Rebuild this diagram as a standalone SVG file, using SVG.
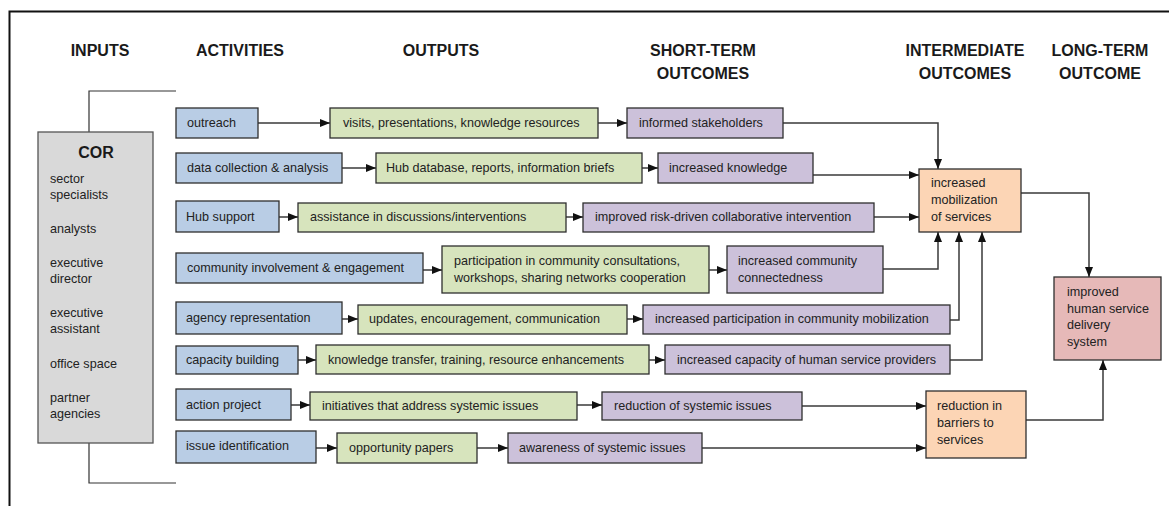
<svg xmlns="http://www.w3.org/2000/svg" width="1169" height="506" viewBox="0 0 1169 506">
<style>
.hdr{font-family:"Liberation Sans",Arial,sans-serif;font-weight:bold;font-size:16px;fill:#1a1a1a;text-anchor:middle}
.t{font-family:"Liberation Sans",Arial,sans-serif;font-size:12.6px;fill:#222}
.box{stroke:#2e2e2e;stroke-width:1.3}
.act{fill:#b9cde5}
.out{fill:#d7e4bd}
.st{fill:#ccc1da}
.im{fill:#fcd5b5}
.lt{fill:#e6b9b8}
.cor{fill:#d9d9d9;stroke:#555;stroke-width:1.3}
.c{fill:none;stroke:#3a3a3a;stroke-width:1.5}
.br{fill:none;stroke:#333;stroke-width:1.2}
</style>
<defs>
<marker id="ah" markerUnits="userSpaceOnUse" markerWidth="10" markerHeight="10" viewBox="0 0 10 10" refX="10" refY="5" orient="auto">
<path d="M0,1 L10,5 L0,9 Z" fill="#111"/>
</marker>
</defs>
<rect width="1169" height="506" fill="#fff"/>
<path d="M9.5,506 V11.5 H1169" fill="none" stroke="#111" stroke-width="2"/>

<g id="headers">
<text class="hdr" x="100" y="56">INPUTS</text>
<text class="hdr" x="240" y="56">ACTIVITIES</text>
<text class="hdr" x="441" y="56">OUTPUTS</text>
<text class="hdr" x="703" y="56">SHORT-TERM</text>
<text class="hdr" x="703" y="79">OUTCOMES</text>
<text class="hdr" x="965" y="56">INTERMEDIATE</text>
<text class="hdr" x="965" y="79">OUTCOMES</text>
<text class="hdr" x="1100" y="56">LONG-TERM</text>
<text class="hdr" x="1100" y="79">OUTCOME</text>
</g>

<g id="connectors">
<path class="br" d="M176,91 H89 V132"/>
<path class="br" d="M89,443 V483 H176"/>
<path class="c" d="M258,123 H330" marker-end="url(#ah)"/>
<path class="c" d="M598,123 H627" marker-end="url(#ah)"/>
<path class="c" d="M783,123 H938 V169" marker-end="url(#ah)"/>
<path class="c" d="M342,168 H376" marker-end="url(#ah)"/>
<path class="c" d="M642,168 H658" marker-end="url(#ah)"/>
<path class="c" d="M813,175 H919" marker-end="url(#ah)"/>
<path class="c" d="M279,217 H298" marker-end="url(#ah)"/>
<path class="c" d="M566,217 H583" marker-end="url(#ah)"/>
<path class="c" d="M874,217 H919" marker-end="url(#ah)"/>
<path class="c" d="M423,270 H442" marker-end="url(#ah)"/>
<path class="c" d="M709,270 H727" marker-end="url(#ah)"/>
<path class="c" d="M883,269 H938 V232" marker-end="url(#ah)"/>
<path class="c" d="M342,319 H358" marker-end="url(#ah)"/>
<path class="c" d="M627,319 H643" marker-end="url(#ah)"/>
<path class="c" d="M950,320 H959 V232" marker-end="url(#ah)"/>
<path class="c" d="M298,360 H316" marker-end="url(#ah)"/>
<path class="c" d="M649,360 H665" marker-end="url(#ah)"/>
<path class="c" d="M950,360 H982 V232" marker-end="url(#ah)"/>
<path class="c" d="M291,405 H310" marker-end="url(#ah)"/>
<path class="c" d="M577,405 H602" marker-end="url(#ah)"/>
<path class="c" d="M802,406 H926" marker-end="url(#ah)"/>
<path class="c" d="M316,448 H337" marker-end="url(#ah)"/>
<path class="c" d="M477,448 H508" marker-end="url(#ah)"/>
<path class="c" d="M702,448 H926" marker-end="url(#ah)"/>
<path class="c" d="M1021,193 H1089 V277" marker-end="url(#ah)"/>
<path class="c" d="M1026,420 H1103 V360" marker-end="url(#ah)"/>
</g>

<g id="cor">
<rect class="cor" x="38" y="132" width="115" height="311"/>
<text class="hdr" x="96" y="158">COR</text>
<text class="t" x="50" y="183">sector</text>
<text class="t" x="50" y="199">specialists</text>
<text class="t" x="50" y="233">analysts</text>
<text class="t" x="50" y="267">executive</text>
<text class="t" x="50" y="283">director</text>
<text class="t" x="50" y="317">executive</text>
<text class="t" x="50" y="333">assistant</text>
<text class="t" x="50" y="368">office space</text>
<text class="t" x="50" y="402">partner</text>
<text class="t" x="50" y="418">agencies</text>
</g>

<g id="act-outreach"><rect class="box act" x="176" y="108" width="82" height="30"/><text class="t" x="187" y="127">outreach</text></g>
<g id="act-data"><rect class="box act" x="176" y="153" width="166" height="30"/><text class="t" x="187" y="172">data collection &amp; analysis</text></g>
<g id="act-hub"><rect class="box act" x="176" y="201" width="103" height="31"/><text class="t" x="186" y="221">Hub support</text></g>
<g id="act-community"><rect class="box act" x="176" y="253" width="247" height="30"/><text class="t" x="187" y="272">community involvement &amp; engagement</text></g>
<g id="act-agency"><rect class="box act" x="176" y="302" width="166" height="32"/><text class="t" x="186" y="322">agency representation</text></g>
<g id="act-capacity"><rect class="box act" x="176" y="346" width="122" height="28"/><text class="t" x="186" y="364">capacity building</text></g>
<g id="act-action"><rect class="box act" x="176" y="389" width="115" height="31"/><text class="t" x="186" y="409">action project</text></g>
<g id="act-issue"><rect class="box act" x="176" y="431" width="140" height="32"/><text class="t" x="186" y="450">issue identification</text></g>

<g id="out-visits"><rect class="box out" x="330" y="108" width="268" height="30"/><text class="t" x="343" y="127">visits, presentations, knowledge resources</text></g>
<g id="out-hubdb"><rect class="box out" x="376" y="153" width="266" height="30"/><text class="t" x="386" y="172">Hub database, reports, information briefs</text></g>
<g id="out-assist"><rect class="box out" x="298" y="203" width="268" height="29"/><text class="t" x="310" y="221">assistance in discussions/interventions</text></g>
<g id="out-particip"><rect class="box out" x="442" y="246" width="267" height="47"/><text class="t" x="454" y="265">participation in community consultations,</text><text class="t" x="454" y="282">workshops, sharing networks cooperation</text></g>
<g id="out-updates"><rect class="box out" x="358" y="305" width="269" height="29"/><text class="t" x="369" y="323">updates, encouragement, communication</text></g>
<g id="out-knowledge"><rect class="box out" x="316" y="345" width="333" height="29"/><text class="t" x="328" y="364">knowledge transfer, training, resource enhancements</text></g>
<g id="out-initiatives"><rect class="box out" x="310" y="392" width="267" height="28"/><text class="t" x="322" y="410">initiatives that address systemic issues</text></g>
<g id="out-opportunity"><rect class="box out" x="337" y="433" width="140" height="30"/><text class="t" x="349" y="452">opportunity papers</text></g>

<g id="st-informed"><rect class="box st" x="627" y="108" width="156" height="30"/><text class="t" x="639" y="127">informed stakeholders</text></g>
<g id="st-knowledge"><rect class="box st" x="658" y="153" width="155" height="30"/><text class="t" x="669" y="172">increased knowledge</text></g>
<g id="st-risk"><rect class="box st" x="583" y="203" width="291" height="29"/><text class="t" x="595" y="221">improved risk-driven collaborative intervention</text></g>
<g id="st-connected"><rect class="box st" x="727" y="246" width="156" height="47"/><text class="t" x="738" y="265">increased community</text><text class="t" x="738" y="282">connectedness</text></g>
<g id="st-particip"><rect class="box st" x="643" y="305" width="307" height="29"/><text class="t" x="655" y="323">increased participation in community mobilization</text></g>
<g id="st-capacity"><rect class="box st" x="665" y="345" width="285" height="29"/><text class="t" x="677" y="364">increased capacity of human service providers</text></g>
<g id="st-reduction"><rect class="box st" x="602" y="392" width="200" height="28"/><text class="t" x="614" y="410">reduction of systemic issues</text></g>
<g id="st-awareness"><rect class="box st" x="508" y="433" width="194" height="30"/><text class="t" x="519" y="452">awareness of systemic issues</text></g>

<g id="im-mobilization"><rect class="box im" x="919" y="169" width="102" height="63"/><text class="t" x="931" y="187">increased</text><text class="t" x="931" y="204">mobilization</text><text class="t" x="931" y="221">of services</text></g>
<g id="im-barriers"><rect class="box im" x="926" y="391" width="100" height="67"/><text class="t" x="937" y="410">reduction in</text><text class="t" x="937" y="427">barriers to</text><text class="t" x="937" y="444">services</text></g>

<g id="lt-improved"><rect class="box lt" x="1054" y="277" width="107" height="83"/><text class="t" x="1067" y="296">improved</text><text class="t" x="1067" y="313">human service</text><text class="t" x="1067" y="329">delivery</text><text class="t" x="1067" y="346">system</text></g>
</svg>
